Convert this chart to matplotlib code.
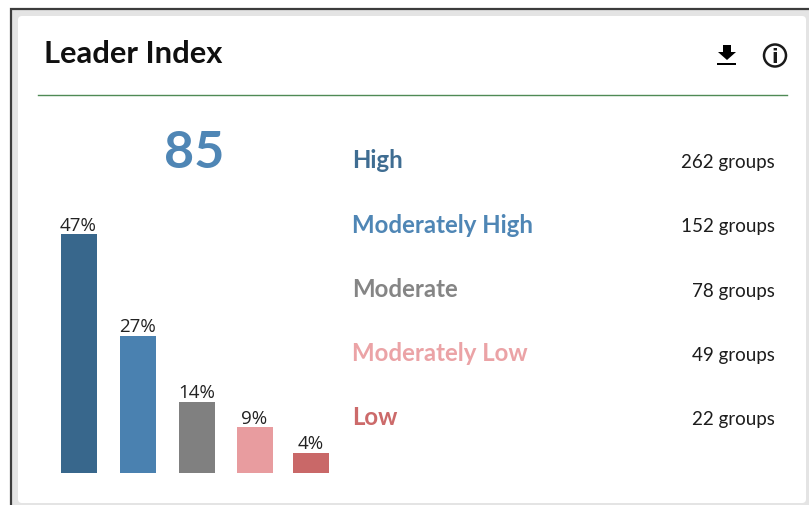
import matplotlib
matplotlib.use("Agg")
import matplotlib.pyplot as plt
from matplotlib.patches import FancyBboxPatch, Rectangle, Polygon, Circle

# data
levels = ['High', 'Moderately High', 'Moderate', 'Moderately Low', 'Low']
percents = [47, 27, 14, 9, 4]
group_counts = [262, 152, 78, 49, 22]
score = 85

# the bars are not evenly spaced in the original
bar_x = [79, 138, 197, 255, 311]
level_y = [168, 233, 297, 361, 425]  # text baselines
count_y = [168, 232, 297, 361, 425]
colors = ['#38678c', '#4a81b0', '#808080', '#e89c9f', '#c96868']
label_colors = ['#3f6d92', '#4f86b5', '#858585', '#eba3a6', '#cc6a6a']

W, H = 809, 506
HEAD = ['Lato', 'DejaVu Sans']

fig = plt.figure(figsize=(W / 100, H / 100), dpi=100)

# background layer in pixel coordinates, y pointing down
bg = fig.add_axes([0, 0, 1, 1])
bg.set_xlim(0, W)
bg.set_ylim(H, 0)
bg.axis('off')
bg.add_patch(Rectangle((11.5, 9.5), W, H, fc='#e4e4e4', ec='#3c3c3c', lw=1.6))
bg.add_patch(FancyBboxPatch((18, 17), 788, 487, boxstyle='round,pad=0,rounding_size=4',
                            fc='white', ec='none'))
bg.plot([38, 787], [95.5, 95.5], color='#4f8a55', lw=1)

bg.text(44, 54, 'Leader Index', fontsize=22.2, fontweight='bold', family=HEAD,
        color='#101010', va='center', ha='left')
bg.text(194.5, 153, str(score), fontsize=37.5, fontweight='bold', family=HEAD,
        color=label_colors[1], va='center', ha='center')

# download icon
bg.add_patch(Polygon([(723, 46), (731, 46), (731, 53), (736, 53), (727, 61), (718, 53), (723, 53)],
                     fc='black', ec='none'))
bg.add_patch(Rectangle((717, 64), 19, 2.4, fc='black', ec='none'))
# info icon
bg.add_patch(Circle((775, 56.5), 11, fc='white', ec='#1a1a1a', lw=1.8))
bg.text(775, 57, 'i', fontsize=14, fontweight='bold', family='DejaVu Sans',
        color='#1a1a1a', ha='center', va='center')

for name, count, y, y2, c in zip(levels, group_counts, level_y, count_y, label_colors):
    bg.text(352.5, y, name, fontsize=17.3, fontweight='bold', family=HEAD, color=c,
            va='baseline', ha='left')
    bg.text(775, y2, f'{count} groups', fontsize=13.5, family=HEAD, color='#1c1c1c',
            va='baseline', ha='right')

# bars, 5.08 px per percent, baseline at y=474
ax = fig.add_axes([0, (H - 474) / H, 1, 254 / H])
ax.patch.set_alpha(0)
ax.set_xlim(0, W)
ax.set_ylim(0, 50)
ax.axis('off')
ax.bar(bar_x, percents, width=36, color=colors, edgecolor='none')
for x, p in zip(bar_x, percents):
    ax.annotate(f'{p}%', (x - 0.5, p), xytext=(0, 0.5), textcoords='offset points',
                ha='center', va='bottom', fontsize=13.5, family='Open Sans', color='#222222')

fig.savefig('out.png', dpi=100)
